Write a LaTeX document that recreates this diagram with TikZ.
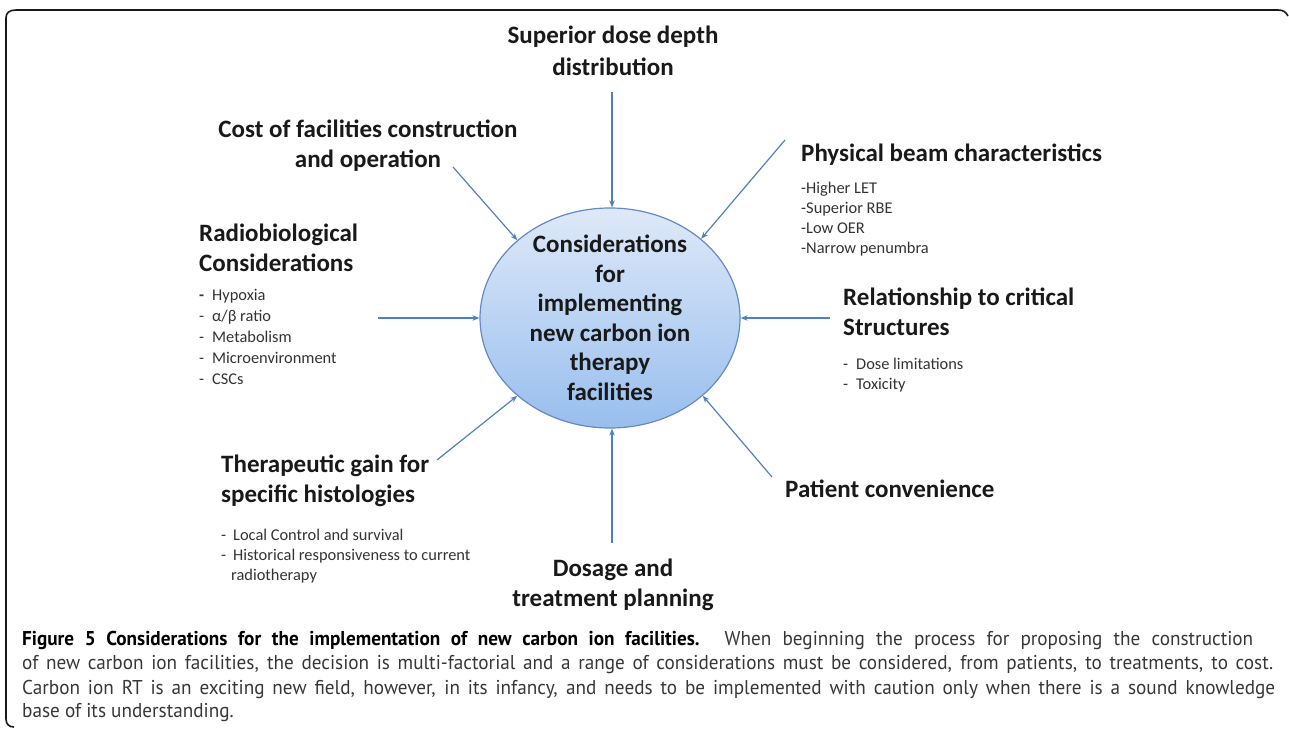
\documentclass[tikz,border=0pt]{standalone}
\usepackage{fontspec}
\setmainfont{Carlito}
\newfontfamily\capfont[FakeStretch=0.96]{PT Sans}
\usetikzlibrary{shapes.geometric,arrows.meta}
\definecolor{arrowblue}{RGB}{79,129,189}
\definecolor{ellborder}{RGB}{100,137,196}
\definecolor{elltop}{RGB}{222,233,248}
\definecolor{ellbot}{RGB}{152,190,238}
\definecolor{captext}{RGB}{55,55,55}
\begin{document}
\begin{tikzpicture}[x=1pt,y=-1pt,
  heading/.style={font=\bfseries\fontsize{25}{30}\selectfont, inner sep=0pt, text=black!90},
  bullets/.style={font=\fontsize{16.4}{20}\selectfont, inner sep=0pt, align=left, text=black!80},
  conn/.style={draw=arrowblue, line width=1.2pt, -{Stealth[length=7pt,width=5.5pt]}},
  capline/.style={font=\capfont\fontsize{20}{24}\selectfont, anchor=base west, inner sep=0pt, text=captext},
  frame/.style={draw=black!90, line width=1.6pt}]
\useasboundingbox (0,0) rectangle (1289,733);
% frame
\draw[frame] (14,727) .. controls (9,727) and (6,724) .. (6,719) -- (6,18)
  .. controls (6,13) and (9,10) .. (16,10) -- (1278,10)
  .. controls (1283,10) and (1286,12) .. (1288,16);
% central ellipse
\node[ellipse, draw=ellborder, line width=1.2pt, top color=elltop, bottom color=ellbot,
      minimum width=260pt, minimum height=220pt, inner sep=0pt] (c) at (610,318) {};
\node[font=\bfseries\fontsize{25}{29.5}\selectfont, align=center, inner sep=0pt, text=black!90]
  (ct) at (610,318) {Considerations\\for\\implementing\\new carbon ion\\therapy\\facilities};
% labels (base anchor = baseline of the last line)
\node[heading, align=center, anchor=base, font=\bfseries\fontsize{25}{32}\selectfont] (top) at (613,76) {Superior dose depth\\distribution};
\node[heading, align=center, anchor=base] (cost) at (368,167) {Cost of facilities construction\\and operation};
\node[heading, anchor=base west] (phys) at (801,161) {Physical beam characteristics};
\node[bullets, anchor=base west] (physb) at (801,253.5) {-Higher LET\\-Superior RBE\\-Low OER\\-Narrow penumbra};
\node[heading, align=left, anchor=base west] (rel) at (843,335) {Relationship to critical\\Structures};
\node[bullets, anchor=base west] (relb) at (843,389.5) {\makebox[13pt][l]{-}Dose limitations\\\makebox[13pt][l]{-}Toxicity};
\node[heading, anchor=base west] (pat) at (785,497) {Patient convenience};
\node[heading, align=left, anchor=base west] (radio) at (199,271) {Radiobiological\\Considerations};
\node[bullets, anchor=base west, font=\fontsize{16.4}{21}\selectfont] (radiob) at (199,384.5)
  {\makebox[13pt][l]{\textbf{-}}Hypoxia\\\makebox[13pt][l]{-}α/β ratio\\\makebox[13pt][l]{-}Metabolism\\\makebox[13pt][l]{-}Microenvironment\\\makebox[13pt][l]{-}CSCs};
\node[heading, align=left, anchor=base west] (ther) at (221,502) {Therapeutic gain for\\specific histologies};
\node[bullets, anchor=base west] (therb) at (221,580) {\makebox[12pt][l]{-}Local Control and survival\\\makebox[12pt][l]{-}Historical responsiveness to current\\\hspace*{10pt}radiotherapy};
\node[heading, align=center, anchor=base] (dos) at (613,606) {Dosage and\\treatment planning};
% connector start points
\coordinate (s1) at (612,92);
\coordinate (s2) at (453,167);
\coordinate (s3) at (785,140);
\coordinate (s4) at (378,318);
\coordinate (s5) at (830,318);
\coordinate (s6) at (437,460);
\coordinate (s7) at (612,543);
\coordinate (s8) at (772,477);
\draw[conn] (s1) -- (c.north -| s1);
\draw[conn] (s2) -- (c.140);
\draw[conn] (s3) -- (c.41);
\draw[conn] (s4) -- (c.west);
\draw[conn] (s5) -- (c.east);
\draw[conn] (s6) -- (c.220);
\draw[conn] (s7) -- (c.south -| s7);
\draw[conn] (s8) -- (c.320);
% caption
\node[capline] (cap1) at (22,645) {\makebox[1231pt][s]{{\bfseries\color{black}Figure 5 Considerations for the implementation of new carbon ion facilities.} When beginning the process for proposing the construction}};
\node[capline] (cap2) at (22,669.5) {\makebox[1251pt][s]{of new carbon ion facilities, the decision is multi-factorial and a range of considerations must be considered, from patients, to treatments, to cost.}};
\node[capline] (cap3) at (22,694) {\makebox[1253pt][s]{Carbon ion RT is an exciting new field, however, in its infancy, and needs to be implemented with caution only when there is a sound knowledge}};
\node[capline] (cap4) at (22,717) {base of its understanding.};
\end{tikzpicture}
\end{document}
